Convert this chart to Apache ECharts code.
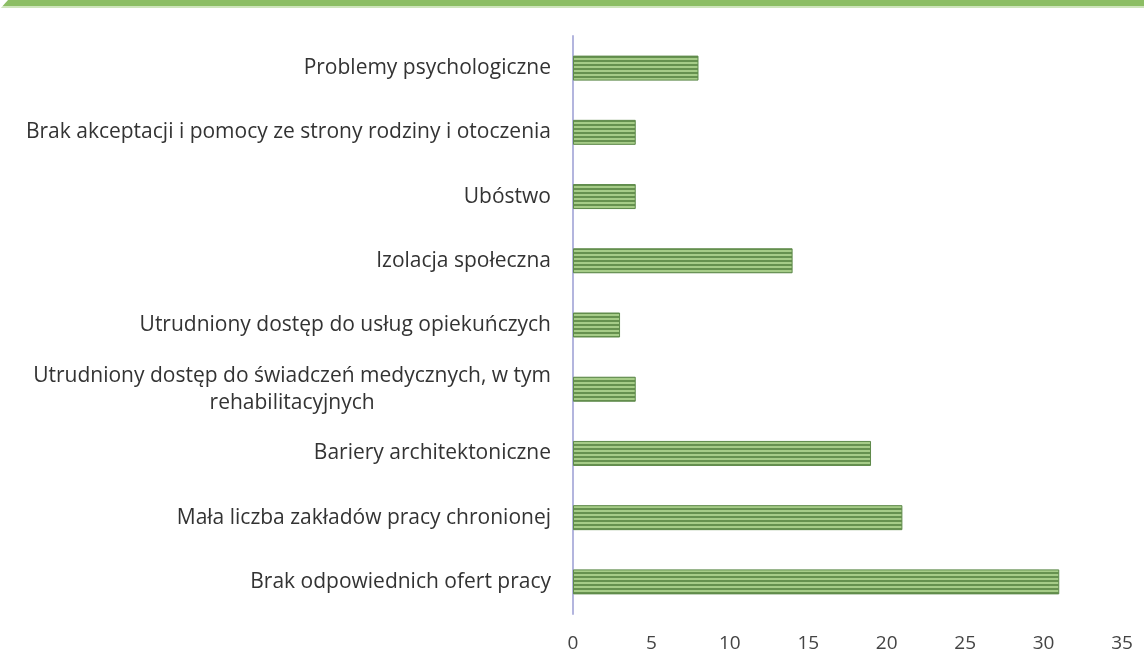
<!DOCTYPE html>
<html>
<head>
<meta charset="utf-8">
<script src="https://cdn.jsdelivr.net/npm/echarts@6/dist/echarts.min.js"></script>
<style>
html,body{margin:0;padding:0;background:#fff;}
#c{width:1144px;height:670px;}
</style>
</head>
<body>
<div id="c"></div>
<script>
const categories = [
  "Problemy psychologiczne",
  "Brak akceptacji i pomocy ze strony rodziny i otoczenia",
  "Ubóstwo",
  "Izolacja społeczna",
  "Utrudniony dostęp do usług opiekuńczych",
  "Utrudniony dostęp do świadczeń medycznych, w tym\nrehabilitacyjnych",
  "Bariery architektoniczne",
  "Mała liczba zakładów pracy chronionej",
  "Brak odpowiednich ofert pracy"
];
const values = [8, 4, 4, 14, 3, 4, 19, 21, 31];
const xTicks = [0, 5, 10, 15, 20, 25, 30, 35];

function stripePattern() {
  const cv = document.createElement('canvas');
  cv.width = 8; cv.height = 4;
  const g = cv.getContext('2d');
  g.fillStyle = '#a6cc88'; g.fillRect(0, 0, 8, 4);
  g.fillStyle = '#66914f'; g.fillRect(0, 0, 8, 2);
  return cv;
}

const FONT = 'Open Sans';
const chart = echarts.init(document.getElementById('c'), null, {renderer: 'canvas'});
chart.setOption({
  backgroundColor: '#ffffff',
  animation: false,
  graphic: [
    {type: 'rect', left: 0, top: 0, shape: {width: 1144, height: 6}, style: {fill: '#8cbe64'}},
    {type: 'rect', left: 0, top: 6, shape: {width: 1144, height: 2}, style: {fill: '#cfe5bc'}},
    {type: 'polygon', shape: {points: [[0, 0], [8, 0], [0, 9]]}, style: {fill: '#ffffff'}}
  ],
  grid: {left: 573, right: 22, top: 36, bottom: 56, containLabel: false},
  xAxis: {
    type: 'value', min: 0, max: 35, interval: 5,
    axisLine: {show: false}, axisTick: {show: false}, splitLine: {show: false},
    axisLabel: {
      margin: 20, color: '#444', fontFamily: FONT, fontSize: 19,
      formatter: v => xTicks.includes(v) ? String(v) : ''
    }
  },
  yAxis: {
    type: 'category', inverse: true, data: categories,
    axisLine: {show: true, lineStyle: {color: '#b3b5de', width: 2}},
    axisTick: {show: false},
    axisLabel: {
      margin: 22, color: '#333', fontFamily: FONT, fontSize: 21,
      lineHeight: 27,
      formatter: v => v.split('\n').map(s => '{c|' + s + '}').join('\n'),
      rich: {c: {align: 'center', fontFamily: FONT, fontSize: 21, color: '#333', lineHeight: 27}}
    }
  },
  series: [{
    type: 'bar', data: values, barWidth: 25,
    itemStyle: {
      color: {image: stripePattern(), repeat: 'repeat'},
      borderColor: '#5e8a4a', borderWidth: 1
    }
  }]
});
</script>
</body>
</html>
